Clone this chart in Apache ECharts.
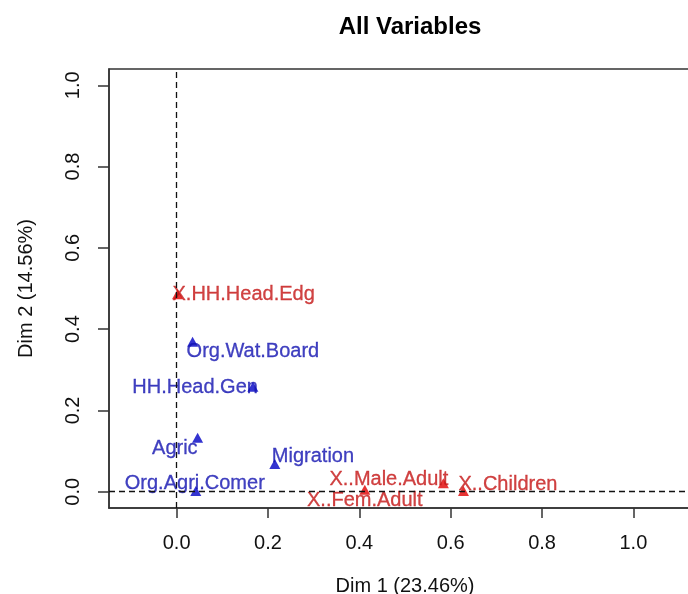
<!DOCTYPE html>
<html>
<head>
<meta charset="utf-8">
<script src="https://cdn.jsdelivr.net/npm/echarts@6/dist/echarts.min.js"></script>
<style>
html,body{margin:0;padding:0;background:#fff;}
#chart{width:688px;height:594px;}
</style>
</head>
<body>
<div id="chart"></div>
<script>
// ---- data ----
const varNames = ['X.HH.Head.Edg','Org.Wat.Board','HH.Head.Gen','Agric','Migration','Org.Agri.Comer','X..Male.Adult','X..Fem.Adult','X..Children'];
const dim1 = [0.002, 0.035, 0.167, 0.046, 0.215, 0.042, 0.584, 0.412, 0.628];
const dim2 = [0.486, 0.369, 0.258, 0.133, 0.068, 0.002, 0.021, 0.005, 0.002];
const varGroup = ['red','blue','blue','blue','blue','blue','red','red','red'];
const xTicks = [0, 0.2, 0.4, 0.6, 0.8, 1.0];
const yTicks = [0, 0.2, 0.4, 0.6, 0.8, 1.0];
const titleText = 'All Variables';
const xTitle = 'Dim 1 (23.46%)';
const yTitle = 'Dim 2 (14.56%)';

// ---- styling ----
const FONT = '"Liberation Sans", Arial, sans-serif';
const colors = {
  blue: {mark: '#0000c4', text: '#1212b0'},
  red:  {mark: '#e00000', text: '#c41414'}
};
// label placement: [align, dx, dy]
const labelPlace = {
  'X.HH.Head.Edg': ['left', -5, 0],
  'Org.Wat.Board': ['left', -6, 10],
  'HH.Head.Gen': ['right', 5, 1],
  'Agric': ['right', 0, 11],
  'Migration': ['left', -3, -8],
  'Org.Agri.Comer': ['center', -1, -7],
  'X..Male.Adult': ['right', 5, -4],
  'X..Fem.Adult': ['center', 0, 11],
  'X..Children': ['left', -5, -6]
};

function buildData(group) {
  const out = [];
  varNames.forEach((n, i) => {
    if (varGroup[i] !== group) return;
    const p = labelPlace[n];
    out.push({
      name: n,
      value: [dim1[i], dim2[i]],
      label: {align: p[0], offset: [p[1], p[2]]}
    });
  });
  return out;
}

function seriesFor(group, withLines) {
  const s = {
    type: 'scatter',
    symbol: 'triangle',
    symbolSize: [11, 10],
    itemStyle: {color: colors[group].mark},
    clip: false,
    z: 3,
    label: {
      show: true,
      position: 'inside',
      verticalAlign: 'middle',
      formatter: '{b}',
      color: colors[group].text,
      textBorderColor: colors[group].text,
      textBorderWidth: 0.3,
      fontFamily: FONT,
      fontSize: 20
    },
    emphasis: {disabled: true},
    data: buildData(group)
  };
  if (withLines) {
    s.markLine = {
      silent: true,
      symbol: 'none',
      label: {show: false},
      lineStyle: {color: '#111', type: [6, 4], width: 1.3},
      data: [{xAxis: 0}, {yAxis: 0}],
      animation: false
    };
  }
  return s;
}

const chart = echarts.init(document.getElementById('chart'), null, {renderer: 'canvas'});
chart.setOption({
  animation: false,
  backgroundColor: '#fff',
  title: {
    text: titleText,
    left: 405,
    top: 10,
    textAlign: 'center',
    textStyle: {fontFamily: FONT, fontSize: 24, fontWeight: 'bold', color: '#000'}
  },
  grid: {
    left: 109, top: 69, width: 592, height: 439,
    outerBoundsMode: 'none',
    containLabel: false,
    show: true, borderColor: '#333', borderWidth: 1.5, backgroundColor: 'transparent'
  },
  xAxis: {
    type: 'value',
    min: -0.148, max: 1.148,
    name: xTitle,
    nameLocation: 'middle',
    nameGap: 68,
    nameTextStyle: {fontFamily: FONT, fontSize: 20, color: '#111'},
    axisLine: {show: true, onZero: false, lineStyle: {color: '#333', width: 1.5}},
    axisTick: {show: true, customValues: xTicks, length: 10, lineStyle: {color: '#333', width: 1.5}},
    axisLabel: {
      customValues: xTicks, margin: 25,
      fontFamily: FONT, fontSize: 20, color: '#111',
      formatter: v => v.toFixed(1)
    },
    splitLine: {show: false}
  },
  yAxis: {
    type: 'value',
    min: -0.04, max: 1.04,
    name: yTitle,
    nameLocation: 'middle',
    nameRotate: 90,
    nameGap: 73,
    nameTextStyle: {fontFamily: FONT, fontSize: 20, color: '#111'},
    axisLine: {show: true, onZero: false, lineStyle: {color: '#333', width: 1.5}},
    axisTick: {show: true, customValues: yTicks, length: 11, lineStyle: {color: '#333', width: 1.5}},
    axisLabel: {
      customValues: yTicks, margin: 26, rotate: 90,
      fontFamily: FONT, fontSize: 20, color: '#111',
      formatter: v => v.toFixed(1)
    },
    splitLine: {show: false}
  },
  series: [seriesFor('blue', true), seriesFor('red', false)]
});
</script>
</body>
</html>
